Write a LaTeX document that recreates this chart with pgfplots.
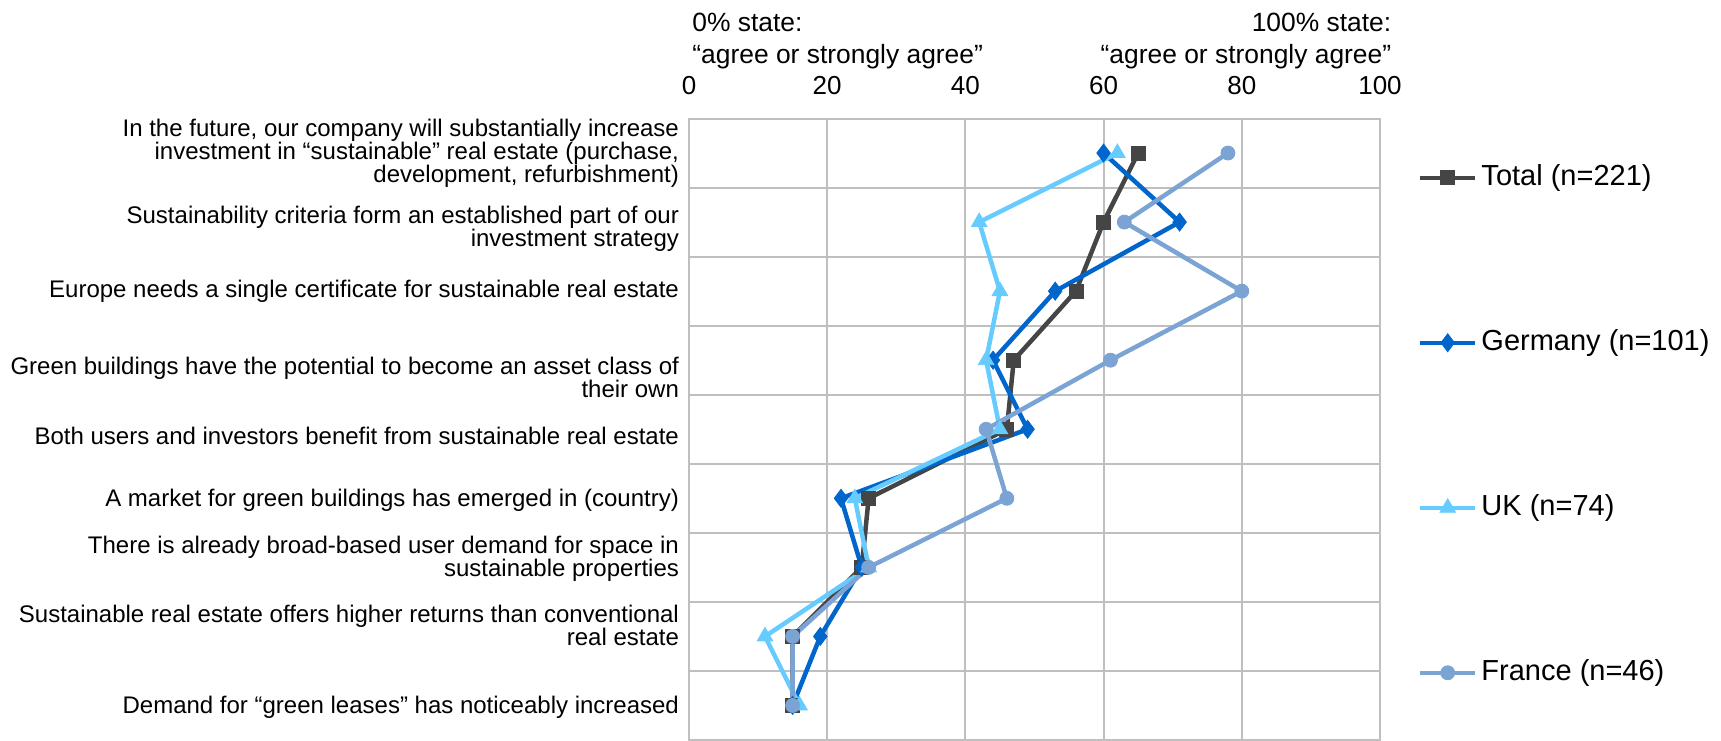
\documentclass[border=0pt]{standalone}
\usepackage{fontspec}
\setmainfont{Liberation Sans}
\usepackage{pgfplots}
\pgfplotsset{compat=1.18}
\definecolor{ctotal}{HTML}{454545}
\definecolor{cger}{HTML}{0066CC}
\definecolor{cuk}{HTML}{66CCFF}
\definecolor{cfr}{HTML}{7BA3D4}
\definecolor{cgrid}{HTML}{BFBFBF}
\begin{document}
\begin{tikzpicture}
\path[use as bounding box] (-344.5pt,0pt) rectangle (516pt,370pt);
\begin{axis}[
  scale only axis,
  width=345.5pt, height=310.75pt,
  xmin=0, xmax=100, ymin=0.5, ymax=9.5,
  y dir=reverse,
  xtick={0,20,40,60,80,100},
  ytick={1,2.1,3,4.25,5.1,6.03,6.87,7.84,9.03},
  minor ytick={0.5,1.5,2.5,3.5,4.5,5.5,6.5,7.5,8.5,9.5},
  xmajorgrids=true, yminorgrids=true, ymajorgrids=false,
  grid style={cgrid, line width=1pt},
  minor grid style={cgrid, line width=1pt},
  axis line style={cgrid, line width=1pt},
  major tick length=0pt, minor tick length=0pt,
  xticklabel pos=upper,
  /pgf/number format/assume math mode=true,
  xticklabel style={anchor=base, yshift=12pt, font=\fontsize{13}{15}\selectfont},
  yticklabel style={align=right, anchor=east, xshift=-1.5pt, font=\fontsize{12}{11.5}\selectfont},
  yticklabels={
    {In the future, our company will substantially increase\\investment in “sustainable” real estate (purchase,\\development, refurbishment)},
    {Sustainability criteria form an established part of our\\investment strategy},
    {Europe needs a single certificate for sustainable real estate},
    {Green buildings have the potential to become an asset class of\\their own},
    {Both users and investors benefit from sustainable real estate},
    {A market for green buildings has emerged in (country)},
    {There is already broad-based user demand for space in\\sustainable properties},
    {Sustainable real estate offers higher returns than conventional\\real estate},
    {Demand for “green leases” has noticeably increased}
  },
  clip=false,
  legend image code/.code={\draw[mark repeat=2,mark phase=2,#1] plot coordinates {(0pt,0pt) (13.75pt,0pt) (27.5pt,0pt)};},
  legend style={at={(1.055,0.928)}, anchor=north west, draw=none, fill=none,
    font=\fontsize{14.5}{17}\selectfont, row sep=68pt, column sep=2pt,
    inner sep=0pt, outer sep=0pt,
    nodes={inner sep=0pt, text height=11pt, text depth=3.5pt}},
  legend cell align=left,
]
\addplot[ctotal, line width=2.25pt, mark=square*, mark size=3.5pt, mark options={solid, fill=ctotal, draw=ctotal, line width=0.4pt}]
  coordinates {(65,1) (60,2) (56,3) (47,4) (46,5) (26,6) (25,7) (15,8) (15,9)};
\addlegendentry{Total (n=221)}
\addplot[cger, line width=2.25pt, mark=diamond*, mark size=4.5pt, mark options={solid, fill=cger, draw=cger, line width=0.4pt}]
  coordinates {(60,1) (71,2) (53,3) (44,4) (49,5) (22,6) (25,7) (19,8) (15,9)};
\addlegendentry{Germany (n=101)}
\addplot[cuk, line width=2.25pt, mark=triangle*, mark size=4.5pt, mark options={solid, fill=cuk, draw=cuk, line width=0.4pt}]
  coordinates {(62,1) (42,2) (45,3) (43,4) (45,5) (24,6) (26,7) (11,8) (16,9)};
\addlegendentry{UK (n=74)}
\addplot[cfr, line width=2.25pt, mark=*, mark size=3.5pt, mark options={solid, fill=cfr, draw=cfr, line width=0.4pt}]
  coordinates {(78,1) (63,2) (80,3) (61,4) (43,5) (46,6) (26,7) (15,8) (15,9)};
\addlegendentry{France (n=46)}
\end{axis}
\begin{scope}[font=\fontsize{13.2}{15}\selectfont]
\node[anchor=base west, inner sep=0pt] at (1.5pt,354.2pt) {0\% state:};
\node[anchor=base west, inner sep=0pt] at (1.5pt,338pt) {“agree or strongly agree”};
\node[anchor=base east, inner sep=0pt] at (351.3pt,354.2pt) {100\% state:};
\node[anchor=base east, inner sep=0pt] at (351.3pt,338pt) {“agree or strongly agree”};
\end{scope}
\end{tikzpicture}
\end{document}
